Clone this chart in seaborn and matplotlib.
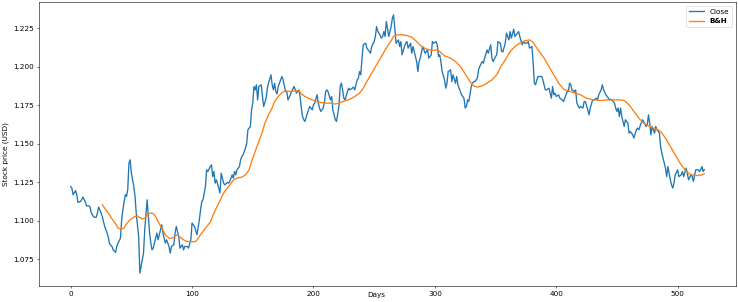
import matplotlib
matplotlib.use('Agg')
import matplotlib.pyplot as plt
import seaborn as sns
import pandas as pd

# Close price (day, USD)
close_days = [0, 1, 2, 4, 5, 6, 8, 9, 10, 12, 13, 15, 16, 17, 19, 21, 22, 23, 24, 26,
              27, 28, 30, 31, 32, 34, 35, 37, 38, 39, 41, 42, 43, 45, 46, 47, 48, 49, 50, 52,
              53, 54, 56, 57, 59, 60, 61, 63, 64, 65, 66, 67, 68, 70, 71, 72, 74, 75, 76, 78,
              79, 81, 82, 83, 85, 86, 87, 89, 90, 92, 93, 94, 96, 97, 99, 100, 102, 104, 106, 107,
              108, 109, 111, 112, 113, 115, 116, 117, 118, 119, 120, 122, 123, 124, 126, 127, 129, 130, 131, 133,
              134, 135, 136, 137, 139, 140, 141, 142, 144, 145, 146, 148, 149, 150, 151, 152, 153, 154, 155, 157,
              158, 159, 161, 162, 163, 165, 166, 167, 168, 169, 170, 171, 172, 174, 175, 177, 178, 179, 181, 182,
              184, 185, 186, 188, 189, 190, 191, 192, 193, 195, 196, 197, 199, 200, 201, 203, 204, 205, 206, 208,
              209, 210, 211, 212, 214, 215, 216, 218, 219, 221, 222, 223, 224, 225, 226, 228, 229, 230, 232, 233,
              234, 236, 237, 238, 239, 240, 241, 243, 244, 245, 247, 248, 250, 251, 252, 253, 254, 256, 257, 258,
              259, 260, 261, 262, 264, 265, 266, 267, 268, 270, 271, 272, 273, 275, 276, 277, 278, 280, 281, 282,
              284, 285, 286, 287, 288, 290, 291, 292, 294, 295, 297, 298, 299, 301, 302, 303, 304, 305, 306, 308,
              309, 310, 311, 313, 314, 315, 317, 318, 319, 321, 322, 324, 325, 326, 327, 328, 330, 331, 332, 333,
              335, 336, 337, 339, 340, 341, 343, 344, 346, 347, 348, 350, 351, 352, 354, 355, 356, 358, 359, 361,
              362, 363, 365, 366, 367, 369, 370, 372, 373, 374, 376, 377, 378, 380, 381, 382, 383, 384, 385, 387,
              388, 389, 391, 392, 394, 395, 396, 397, 398, 399, 400, 402, 403, 405, 406, 407, 409, 410, 411, 412,
              413, 415, 416, 417, 419, 420, 422, 423, 424, 426, 427, 428, 430, 431, 433, 434, 435, 437, 438, 439,
              441, 442, 444, 445, 446, 448, 449, 450, 451, 452, 453, 454, 456, 457, 459, 460, 461, 463, 464, 466,
              467, 468, 470, 471, 472, 474, 475, 476, 477, 478, 479, 481, 482, 483, 485, 486, 487, 489, 490, 491,
              492, 494, 495, 496, 497, 498, 500, 501, 503, 504, 505, 507, 508, 509, 511, 512, 513, 514, 515, 517,
              518, 519, 520, 521, 522]
close_vals = [1.1221, 1.1211, 1.1168, 1.1195, 1.1168, 1.1118, 1.1124, 1.1135, 1.1153, 1.1124, 1.1096, 1.1096, 1.1088, 1.1049, 1.1023, 1.1021, 1.1049, 1.1088, 1.1070, 1.1027,
              1.0994, 1.0962, 1.0919, 1.0893, 1.0849, 1.0832, 1.0810, 1.0793, 1.0832, 1.0854, 1.0886, 1.1005, 1.1070, 1.1168, 1.1157, 1.1200, 1.1373, 1.1395, 1.1308, 1.1221,
              1.1157, 1.1049, 1.0897, 1.0659, 1.0745, 1.0789, 1.0940, 1.1135, 1.1027, 1.0919, 1.0854, 1.0810, 1.0821, 1.0886, 1.0919, 1.0875, 1.0940, 1.0973, 1.0919, 1.0854,
              1.0875, 1.0832, 1.0789, 1.0832, 1.0843, 1.0919, 1.0962, 1.0897, 1.0821, 1.0843, 1.0810, 1.0832, 1.0832, 1.0821, 1.0875, 1.0984, 1.0962, 1.0908, 1.1005, 1.1070,
              1.1124, 1.1135, 1.1221, 1.1330, 1.1319, 1.1351, 1.1362, 1.1286, 1.1319, 1.1243, 1.1265, 1.1211, 1.1179, 1.1308, 1.1243, 1.1232, 1.1248, 1.1243, 1.1254, 1.1297,
              1.1275, 1.1319, 1.1297, 1.1330, 1.1351, 1.1395, 1.1416, 1.1427, 1.1471, 1.1503, 1.1590, 1.1611, 1.1719, 1.1763, 1.1871, 1.1849, 1.1882, 1.1784, 1.1871, 1.1882,
              1.1806, 1.1741, 1.1795, 1.1860, 1.1893, 1.1947, 1.1882, 1.1849, 1.1893, 1.1838, 1.1823, 1.1871, 1.1893, 1.1936, 1.1914, 1.1838, 1.1838, 1.1784, 1.1817, 1.1838,
              1.1871, 1.1849, 1.1828, 1.1849, 1.1806, 1.1731, 1.1676, 1.1655, 1.1644, 1.1698, 1.1719, 1.1741, 1.1719, 1.1752, 1.1763, 1.1817, 1.1763, 1.1731, 1.1709, 1.1731,
              1.1763, 1.1836, 1.1849, 1.1838, 1.1784, 1.1806, 1.1719, 1.1655, 1.1644, 1.1741, 1.1871, 1.1893, 1.1849, 1.1795, 1.1784, 1.1838, 1.1860, 1.1849, 1.1860, 1.1867,
              1.1849, 1.1914, 1.1925, 1.1968, 1.1947, 1.2055, 1.2142, 1.2152, 1.2120, 1.2109, 1.2087, 1.2131, 1.2163, 1.2196, 1.2260, 1.2228, 1.2217, 1.2185, 1.2196, 1.2228,
              1.2196, 1.2293, 1.2250, 1.2196, 1.2260, 1.2315, 1.2336, 1.2250, 1.2152, 1.2174, 1.2131, 1.2163, 1.2077, 1.2131, 1.2152, 1.2163, 1.2120, 1.2152, 1.2087, 1.2131,
              1.2066, 1.2033, 1.1968, 1.2033, 1.2055, 1.2131, 1.2109, 1.2087, 1.2109, 1.2055, 1.2077, 1.2163, 1.2152, 1.2163, 1.2142, 1.2066, 1.2077, 1.2033, 1.1968, 1.1914,
              1.1860, 1.1892, 1.1968, 1.1979, 1.1903, 1.1947, 1.1892, 1.1936, 1.1882, 1.1838, 1.1817, 1.1795, 1.1731, 1.1741, 1.1784, 1.1774, 1.1871, 1.1893, 1.1903, 1.1903,
              1.1925, 1.1979, 1.2001, 1.2033, 1.2022, 1.2055, 1.2109, 1.2087, 1.2142, 1.2055, 1.2033, 1.2066, 1.2077, 1.2163, 1.2152, 1.2100, 1.2095, 1.2153, 1.2218, 1.2174,
              1.2228, 1.2185, 1.2243, 1.2196, 1.2207, 1.2228, 1.2196, 1.2142, 1.2163, 1.2153, 1.2153, 1.2163, 1.2120, 1.2131, 1.2023, 1.1893, 1.1882, 1.1914, 1.1936, 1.1936,
              1.1936, 1.1914, 1.1849, 1.1849, 1.1860, 1.1828, 1.1795, 1.1871, 1.1817, 1.1828, 1.1806, 1.1817, 1.1795, 1.1784, 1.1773, 1.1795, 1.1838, 1.1838, 1.1893, 1.1882,
              1.1849, 1.1838, 1.1849, 1.1763, 1.1731, 1.1741, 1.1731, 1.1773, 1.1773, 1.1719, 1.1687, 1.1731, 1.1784, 1.1784, 1.1795, 1.1784, 1.1817, 1.1849, 1.1882, 1.1849,
              1.1817, 1.1806, 1.1784, 1.1789, 1.1784, 1.1763, 1.1731, 1.1709, 1.1731, 1.1676, 1.1731, 1.1676, 1.1611, 1.1655, 1.1633, 1.1568, 1.1579, 1.1557, 1.1536, 1.1590,
              1.1601, 1.1590, 1.1633, 1.1655, 1.1644, 1.1611, 1.1622, 1.1687, 1.1633, 1.1557, 1.1611, 1.1568, 1.1611, 1.1590, 1.1568, 1.1481, 1.1438, 1.1373, 1.1341, 1.1286,
              1.1351, 1.1265, 1.1232, 1.1211, 1.1243, 1.1297, 1.1330, 1.1286, 1.1297, 1.1319, 1.1286, 1.1341, 1.1308, 1.1265, 1.1297, 1.1286, 1.1254, 1.1297, 1.1330, 1.1330,
              1.1319, 1.1330, 1.1351, 1.1319, 1.1330]

# Smoothed buy & hold curve
bh_days = [26, 28, 31, 34, 37, 39, 42, 44, 46, 49, 52, 55, 56, 59, 61, 63, 66, 68, 70, 72,
           75, 78, 81, 83, 85, 88, 89, 92, 95, 100, 103, 105, 110, 115, 118, 122, 126, 130, 134, 137,
           141, 144, 147, 149, 152, 155, 158, 160, 163, 166, 168, 171, 174, 177, 181, 185, 188, 190, 193, 197,
           201, 206, 210, 214, 218, 222, 226, 230, 234, 238, 241, 244, 248, 252, 256, 260, 264, 266, 269, 273,
           277, 281, 285, 289, 293, 298, 302, 304, 308, 313, 317, 321, 325, 329, 332, 335, 339, 343, 347, 351,
           354, 358, 362, 366, 370, 374, 378, 381, 385, 390, 394, 398, 402, 406, 410, 414, 420, 425, 431, 436,
           442, 447, 453, 456, 460, 464, 468, 472, 476, 480, 483, 486, 490, 494, 498, 502, 506, 510, 514, 517,
           520, 522]
bh_vals = [1.1103, 1.1081, 1.1049, 1.1012, 1.0979, 1.0951, 1.0945, 1.0951, 1.0979, 1.1005, 1.1023, 1.1031, 1.1023, 1.1012, 1.1016, 1.1038, 1.1049, 1.1046, 1.1027, 1.0994,
           1.0951, 1.0908, 1.0886, 1.0884, 1.0893, 1.0908, 1.0901, 1.0880, 1.0866, 1.0862, 1.0864, 1.0886, 1.0940, 1.0990, 1.1049, 1.1114, 1.1179, 1.1221, 1.1262, 1.1276,
           1.1282, 1.1297, 1.1330, 1.1384, 1.1449, 1.1514, 1.1579, 1.1633, 1.1687, 1.1731, 1.1773, 1.1806, 1.1832, 1.1843, 1.1838, 1.1843, 1.1845, 1.1823, 1.1806, 1.1791,
           1.1778, 1.1767, 1.1763, 1.1763, 1.1757, 1.1767, 1.1778, 1.1789, 1.1806, 1.1828, 1.1860, 1.1903, 1.1958, 1.2012, 1.2066, 1.2120, 1.2168, 1.2196, 1.2207, 1.2207,
           1.2202, 1.2191, 1.2163, 1.2131, 1.2114, 1.2105, 1.2109, 1.2098, 1.2070, 1.2055, 1.2033, 1.2001, 1.1953, 1.1903, 1.1875, 1.1867, 1.1875, 1.1893, 1.1914, 1.1947,
           1.1995, 1.2044, 1.2098, 1.2131, 1.2153, 1.2168, 1.2174, 1.2157, 1.2109, 1.2055, 1.2001, 1.1947, 1.1893, 1.1854, 1.1843, 1.1832, 1.1817, 1.1795, 1.1784, 1.1780,
           1.1784, 1.1784, 1.1784, 1.1780, 1.1752, 1.1709, 1.1666, 1.1633, 1.1616, 1.1601, 1.1594, 1.1579, 1.1536, 1.1481, 1.1427, 1.1373, 1.1330, 1.1302, 1.1293, 1.1293,
           1.1297, 1.1304]

x_ticks = [0, 100, 200, 300, 400, 500]
y_ticks = [1.075, 1.100, 1.125, 1.150, 1.175, 1.200, 1.225]


def main():
    # Big figure at low dpi, like a notebook export
    plt.rcParams['font.size'] = 10.5
    fig, ax = plt.subplots(figsize=(14.76, 6.04), dpi=50)
    fig.subplots_adjust(left=39/738, right=736/738, bottom=16/302, top=300/302)

    close_df = pd.DataFrame({'Days': close_days, 'Close': close_vals})
    bh_df = pd.DataFrame({'Days': bh_days, 'B&H': bh_vals})

    sns.lineplot(data=close_df, x='Days', y='Close', ax=ax, color='#1f77b4', linewidth=1.9, label='Close')
    sns.lineplot(data=bh_df, x='Days', y='B&H', ax=ax, color='#ff7f0e', linewidth=1.9, label='B&H')

    ax.set_xticks(x_ticks)
    ax.set_yticks(y_ticks)
    ax.set_ylabel('Stock price (USD)')
    ax.set_xlabel('Days')
    # the labels sit tight to the axes in the original
    ax.xaxis.set_label_coords(0.4835, -0.022)
    ax.yaxis.set_label_coords(-0.043, 0.465)

    leg = ax.legend(loc='upper right')
    leg.get_texts()[1].set_fontweight('bold')

    fig.savefig('out.png', dpi=50)


if(__name__ == '__main__'):
    main()
